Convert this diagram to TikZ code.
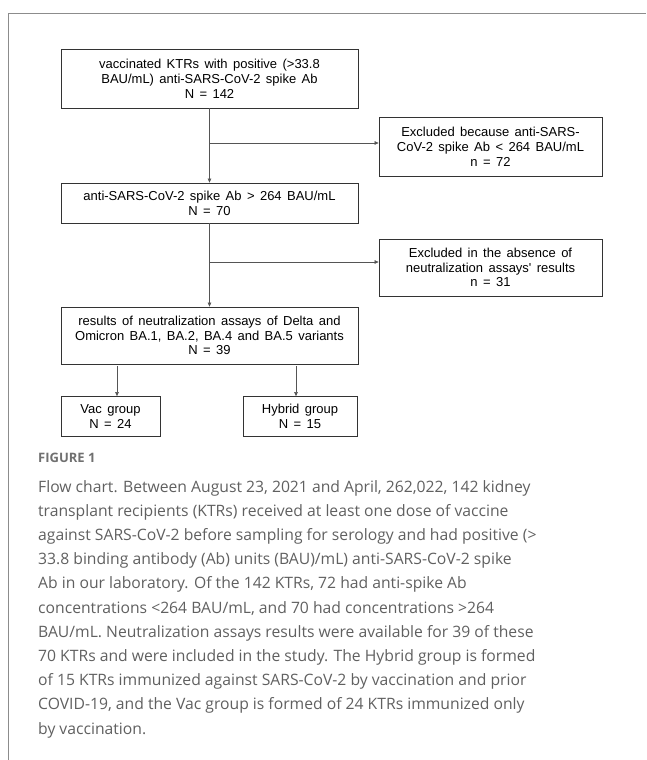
\documentclass[tikz,border=0pt]{standalone}
\usepackage{fontspec}
\usepackage{tikz}
\usetikzlibrary{arrows.meta}
\newfontfamily\boxfont{Liberation Sans}
\newfontfamily\capfont{Open Sans}
\newcommand\stagefont{\boxfont\fontsize{13}{14.8}\selectfont
  \spaceskip=5.4pt plus 1pt minus 1pt\relax}
\definecolor{framegray}{HTML}{8C8C8C}
\definecolor{capgray}{HTML}{606060}
\definecolor{linegray}{HTML}{555555}
\tikzset{
  stage/.style={draw=black!80, line width=0.8pt, inner sep=0pt, align=center,
    font=\stagefont},
  flow/.style={draw=linegray, line width=0.6pt, -{Triangle[length=4pt,width=3.6pt]}},
}

\begin{document}
\begin{tikzpicture}[x=1pt,y=-1pt]
    \useasboundingbox (0,0) rectangle (646,760);
    \draw[framegray, line width=1pt] (8.5,760) -- (8.5,13.5) -- (646,13.5);

    \node[stage, minimum width=297pt, minimum height=59pt] (start) at (209.5,78.5)
        {vaccinated KTRs with positive (>33.8\\ BAU/mL) anti-SARS-CoV-2 spike Ab\\ N = 142};
    \node[stage, minimum width=223pt, minimum height=59pt] (excl1) at (490.5,146.5)
        {Excluded because anti-SARS-\\ CoV-2 spike Ab < 264 BAU/mL\\ n = 72};
    \node[stage, minimum width=297pt, minimum height=40pt] (above) at (209.5,203)
        {anti-SARS-CoV-2 spike Ab > 264 BAU/mL\\ N = 70};
    \node[stage, minimum width=223pt, minimum height=57pt] (excl2) at (490.5,267.5)
        {Excluded in the absence of\\ neutralization assays' results\\ n = 31};
    \node[stage, minimum width=297pt, minimum height=57pt] (neut) at (209.5,335.5)
        {results of neutralization assays of Delta and\\ Omicron BA.1, BA.2, BA.4 and BA.5 variants\\ N = 39};
    \node[stage, minimum width=99pt, minimum height=40pt] (vac) at (110.5,416.5)
        {Vac group\\ N = 24};
    \node[stage, minimum width=114pt, minimum height=40pt] (hyb) at (300,416.5)
        {Hybrid group\\ N = 15};

    % main line and exclusions
    \draw[flow] (start) -- (above);
    \draw[flow] (above) -- (neut);
    \coordinate (br1) at (209.5,143);
    \coordinate (br2) at (209.5,262);
    \draw[flow] (br1) -- (br1 -| excl1.west);
    \draw[flow] (br2) -- (br2 -| excl2.west);

    % split into groups
    \coordinate (vsplit) at (117,366);
    \coordinate (hsplit) at (296,366);
    \draw[flow] (vsplit) -- (vsplit |- vac.north);
    \draw[flow] (hsplit) -- (hsplit |- hyb.north);

    \node[anchor=base west, inner sep=0pt, text=capgray!90!white,
        font=\capfont\bfseries\fontsize{13}{15}\selectfont] (figlabel) at (38,462) {FIGURE 1};
    \node[anchor=north west, inner sep=0pt, text=capgray, align=left,
        font=\capfont\fontsize{15.7}{24.2}\selectfont] (caption) at (38,480)
        {Flow chart. Between August 23, 2021 and April, 262,022, 142 kidney\\
         transplant recipients (KTRs) received at least one dose of vaccine\\
         against SARS-CoV-2 before sampling for serology and had positive (>\\
         33.8 binding antibody (Ab) units (BAU)/mL) anti-SARS-CoV-2 spike\\
         Ab in our laboratory. Of the 142 KTRs, 72 had anti-spike Ab\\
         concentrations <264 BAU/mL, and 70 had concentrations >264\\
         BAU/mL. Neutralization assays results were available for 39 of these\\
         70 KTRs and were included in the study. The Hybrid group is formed\\
         of 15 KTRs immunized against SARS-CoV-2 by vaccination and prior\\
         COVID-19, and the Vac group is formed of 24 KTRs immunized only\\
         by vaccination.};
\end{tikzpicture}
\end{document}
